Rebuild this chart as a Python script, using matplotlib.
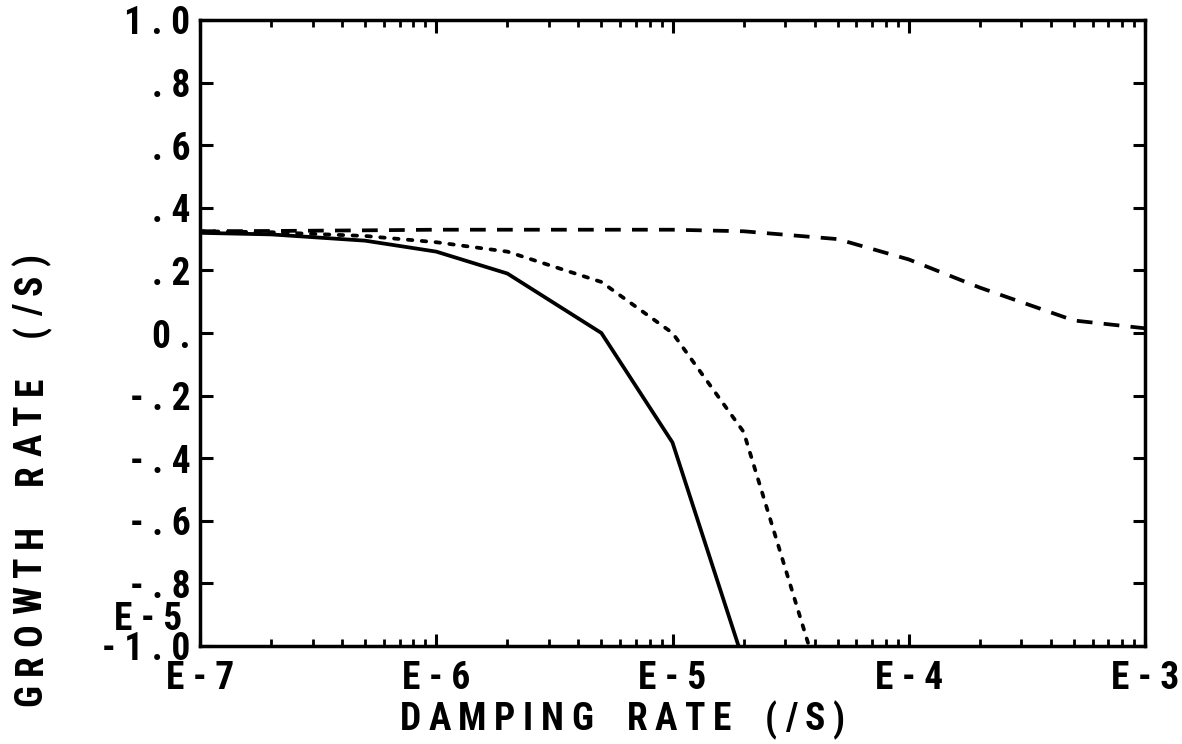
import os
import numpy as np
import matplotlib
matplotlib.use("Agg")
import matplotlib.pyplot as plt
from matplotlib import font_manager as fm
from matplotlib.ticker import FixedLocator, FixedFormatter, LogLocator, NullFormatter

# Data (damping rate in 1/s, growth rate in 1/s)
x_solid = [1e-7, 2e-7, 5e-7, 1e-6, 2e-6, 5e-6, 1e-5, 2e-5]
y_solid = [0.32, 0.315, 0.295, 0.26, 0.19, 0.0, -0.35, -1.05]

x_dotted = [1e-7, 2e-7, 5e-7, 1e-6, 2e-6, 5e-6, 1e-5, 2e-5, 5e-5]
y_dotted = [0.325, 0.322, 0.31, 0.29, 0.26, 0.163, 0.0, -0.316, -1.3]

x_dashed = [1e-7, 2e-7, 5e-7, 1e-6, 2e-6, 5e-6, 1e-5, 2e-5, 5e-5, 1e-4, 2e-4, 5e-4, 1e-3]
y_dashed = [0.325, 0.326, 0.328, 0.33, 0.33, 0.33, 0.33, 0.325, 0.30, 0.235, 0.145, 0.04, 0.015]

x_ticks = [1e-7, 1e-6, 1e-5, 1e-4, 1e-3]
x_ticklabels = ["E - 7", "E - 6", "E - 5", "E - 4", "E - 3"]
y_ticks = [1.0, 0.8, 0.6, 0.4, 0.2, 0.0, -0.2, -0.4, -0.6, -0.8, -1.0]
y_ticklabels = ["1 . 0", ". 8", ". 6", ". 4", ". 2", "0 .", "- . 2", "- . 4", "- . 6", "- . 8", "- 1 . 0"]

x_label = "DAMPING RATE (/S)"
y_label = "GROWTH RATE (/S)"
stray_label = "E - 5"

# pick a narrow bold font if available
prefs = ["LiberationSansNarrow-Bold", "RobotoCondensed-Bold", "Roboto_Condensed-Bold",
         "DejaVuSansCondensed-Bold"]
found = None
files = fm.findSystemFonts() + [f.fname for f in fm.fontManager.ttflist]
for p in prefs:
    for f in files:
        if os.path.basename(f).split('.')[0] == p:
            found = f
            break
    if found:
        break

if found and "Narrow" in found:
    fsize = 29
elif found:
    fsize = 27
else:
    fsize = 22


def fp(size):
    if found:
        return fm.FontProperties(fname=found, size=size)
    return fm.FontProperties(family='DejaVu Sans', weight='bold', size=size)


W, H = 1182, 744
fig = plt.figure(figsize=(W / 100, H / 100), dpi=100)
ax = fig.add_axes([200 / W, 1 - 646 / H, 945 / W, 626 / H])

lw = 2.7
ax.plot(x_solid, y_solid, color='black', lw=lw, solid_joinstyle='miter')
ax.plot(x_dotted, y_dotted, color='black', lw=lw, linestyle=(0, (1.2, 2.5)), dash_capstyle='round')
ax.plot(x_dashed, y_dashed, color='black', lw=lw, linestyle=(0, (4.2, 3.0)))

ax.set_xscale('log')
ax.set_xlim(1e-7, 1e-3)
ax.set_ylim(-1.0, 1.0)

ax.xaxis.set_major_locator(FixedLocator(x_ticks))
ax.xaxis.set_major_formatter(FixedFormatter(x_ticklabels))
ax.xaxis.set_minor_locator(LogLocator(base=10, subs=np.arange(2, 10)))
ax.xaxis.set_minor_formatter(NullFormatter())
ax.yaxis.set_major_locator(FixedLocator(y_ticks))
ax.yaxis.set_major_formatter(FixedFormatter(y_ticklabels))

for s in ax.spines.values():
    s.set_linewidth(2.5)

ax.tick_params(axis='both', which='major', direction='in', length=9, width=2.2,
               top=True, right=True, pad=7)
ax.tick_params(axis='x', which='minor', direction='in', length=5, width=2.0, top=True)
ax.tick_params(axis='x', which='major', pad=10)

for lab in ax.get_xticklabels() + ax.get_yticklabels():
    lab.set_fontproperties(fp(fsize))


def tracked(s, cx, cy, size, target, rot=0, word_gap=3.5):
    """Draw string s letter by letter, spread to span `target` pixels, centred at (cx, cy) px."""
    renderer = fig.canvas.get_renderer()
    widths = []
    for ch in s:
        if ch == ' ':
            widths.append(0.0)
            continue
        t = fig.text(0, 0, ch, fontproperties=fp(size))
        widths.append(t.get_window_extent(renderer).width)
        t.remove()
    units = sum(word_gap if ch == ' ' else 1.0 for ch in s[1:])
    track = (target - sum(widths)) / units
    pos = -target / 2.0
    for i, ch in enumerate(s):
        if i > 0:
            pos += track * (word_gap if ch == ' ' else 1.0)
        if ch != ' ':
            if rot == 0:
                fig.text((cx + pos) / W, 1 - cy / H, ch, fontproperties=fp(size),
                         ha='left', va='center')
            else:
                fig.text(cx / W, 1 - (cy - pos) / H, ch, fontproperties=fp(size),
                         ha='center', va='bottom', rotation=90)
        pos += widths[i]


tracked(x_label, 622, 720, fsize, 445)
tracked(y_label, 31, 480, fsize, 452, rot=90)

fig.text(148 / W, 1 - 620 / H, stray_label, fontproperties=fp(fsize), ha='center', va='center')

fig.savefig("out.png", dpi=100)
